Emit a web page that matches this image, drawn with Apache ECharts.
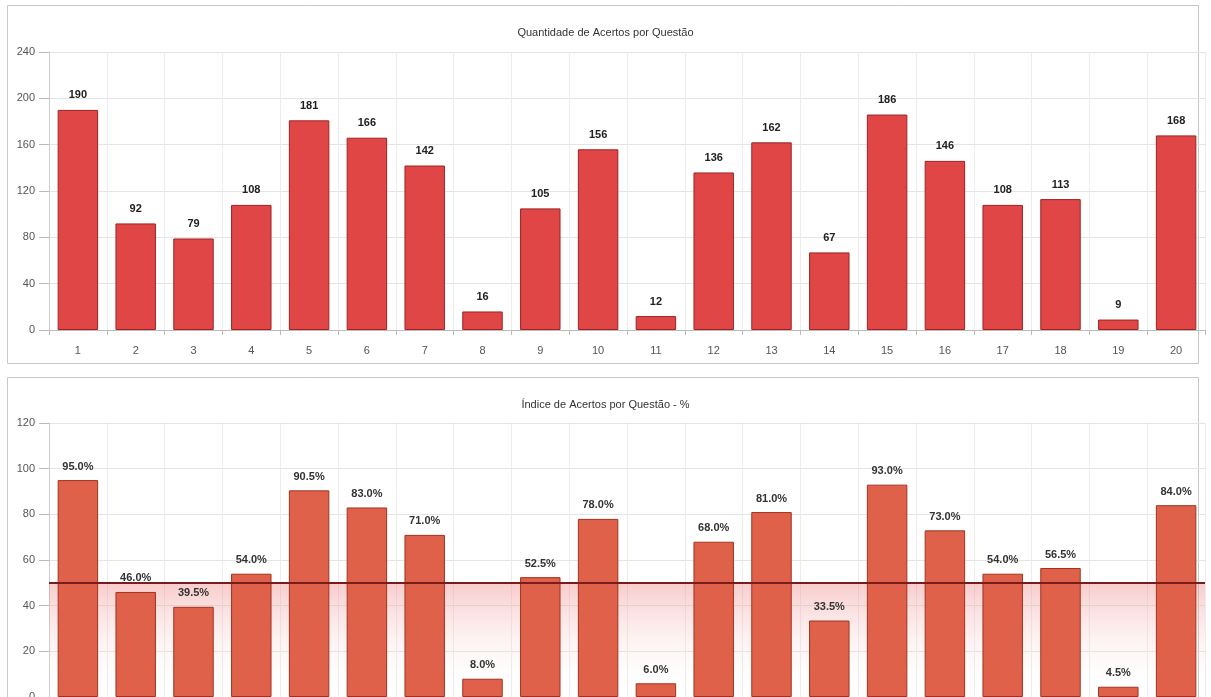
<!DOCTYPE html>
<html><head><meta charset="utf-8">
<script src="https://cdn.jsdelivr.net/npm/echarts@6/dist/echarts.min.js"></script>
<style>html,body{margin:0;padding:0;background:#fff}#c{width:1211px;height:697px}</style>
</head><body><div id="c"></div>
<script>
const categories = ['1','2','3','4','5','6','7','8','9','10','11','12','13','14','15','16','17','18','19','20'];
const acertos = [190, 92, 79, 108, 181, 166, 142, 16, 105, 156, 12, 136, 162, 67, 186, 146, 108, 113, 9, 168];
const indice = [95.0, 46.0, 39.5, 54.0, 90.5, 83.0, 71.0, 8.0, 52.5, 78.0, 6.0, 68.0, 81.0, 33.5, 93.0, 73.0, 54.0, 56.5, 4.5, 84.0];
const meta = 50;
const titleTop = 'Quantidade de Acertos por Questão';
const titleBottom = 'Índice de Acertos por Questão - %';

const chart = echarts.init(document.getElementById('c'));
const font = 'Liberation Sans, Arial, sans-serif';
function catAxis(idx){
  return {type:'category', gridIndex:idx, data:categories,
    axisLine:{lineStyle:{color:'#bbb'}},
    axisTick:{show:true, length:5, lineStyle:{color:'#bbb'}},
    axisLabel:{color:'#555', fontSize:11, fontFamily:font, margin:15},
    splitLine:{show:true, lineStyle:{color:'#ececec'}}};
}
function valAxis(idx,max,interval){
  return {type:'value', gridIndex:idx, min:0, max:max, interval:interval,
    axisLine:{show:true, lineStyle:{color:'#ccc'}},
    axisTick:{show:true, length:10, lineStyle:{color:'#bbb'}},
    axisLabel:{color:'#555', fontSize:11, fontFamily:font, margin:14},
    splitLine:{lineStyle:{color:'#e4e4e4'}}};
}
chart.setOption({
  animation:false,
  backgroundColor:'#fff',
  title:[
    {text:titleTop, left:'center', top:22, textStyle:{fontSize:11, fontWeight:'normal', color:'#333', fontFamily:font}},
    {text:titleBottom, left:'center', top:394, textStyle:{fontSize:11, fontWeight:'normal', color:'#333', fontFamily:font}}
  ],
  graphic:[
    {type:'rect', shape:{x:7.5, y:5.5, width:1191, height:358}, style:{fill:'none', stroke:'#c8c8c8', lineWidth:1}, z:-10},
    {type:'rect', shape:{x:7.5, y:377.5, width:1191, height:340}, style:{fill:'none', stroke:'#c8c8c8', lineWidth:1}, z:-10}
  ],
  grid:[
    {left:49, right:6, top:52, height:278, outerBoundsMode:'none', containLabel:false},
    {left:49, right:6, top:423, height:274, outerBoundsMode:'none', containLabel:false}
  ],
  xAxis:[catAxis(0), catAxis(1)],
  yAxis:[valAxis(0,240,40), valAxis(1,120,20)],
  series:[
    {type:'bar', xAxisIndex:0, yAxisIndex:0, data:acertos, barWidth:'70%', z:3,
      itemStyle:{color:'#e04646', borderColor:'#9e2222', borderWidth:1},
      label:{show:true, position:'top', distance:9, color:'#222', fontSize:11, fontWeight:'bold', fontFamily:font}},
    {type:'line', xAxisIndex:1, yAxisIndex:1, data:[], z:1, silent:true,
      markArea:{silent:true, itemStyle:{color:{type:'linear', x:0, y:0, x2:0, y2:1,
          colorStops:[{offset:0, color:'rgba(240,140,140,0.45)'},{offset:1, color:'rgba(255,255,255,0)'}]}},
        data:[[{yAxis:0},{yAxis:meta}]]},
      markLine:{silent:true, symbol:'none', label:{show:false},
        lineStyle:{color:'#7a1c1c', width:2, type:'solid'}, data:[{yAxis:meta}]}},
    {type:'bar', xAxisIndex:1, yAxisIndex:1, data:indice, barWidth:'70%', z:3,
      itemStyle:{color:'#e0614a', borderColor:'#a0321f', borderWidth:1},
      label:{show:true, position:'top', distance:8, color:'#333', fontSize:11, fontWeight:'bold', fontFamily:font,
        formatter:p=>p.value.toFixed(1)+'%'}}
  ]
});
</script></body></html>
